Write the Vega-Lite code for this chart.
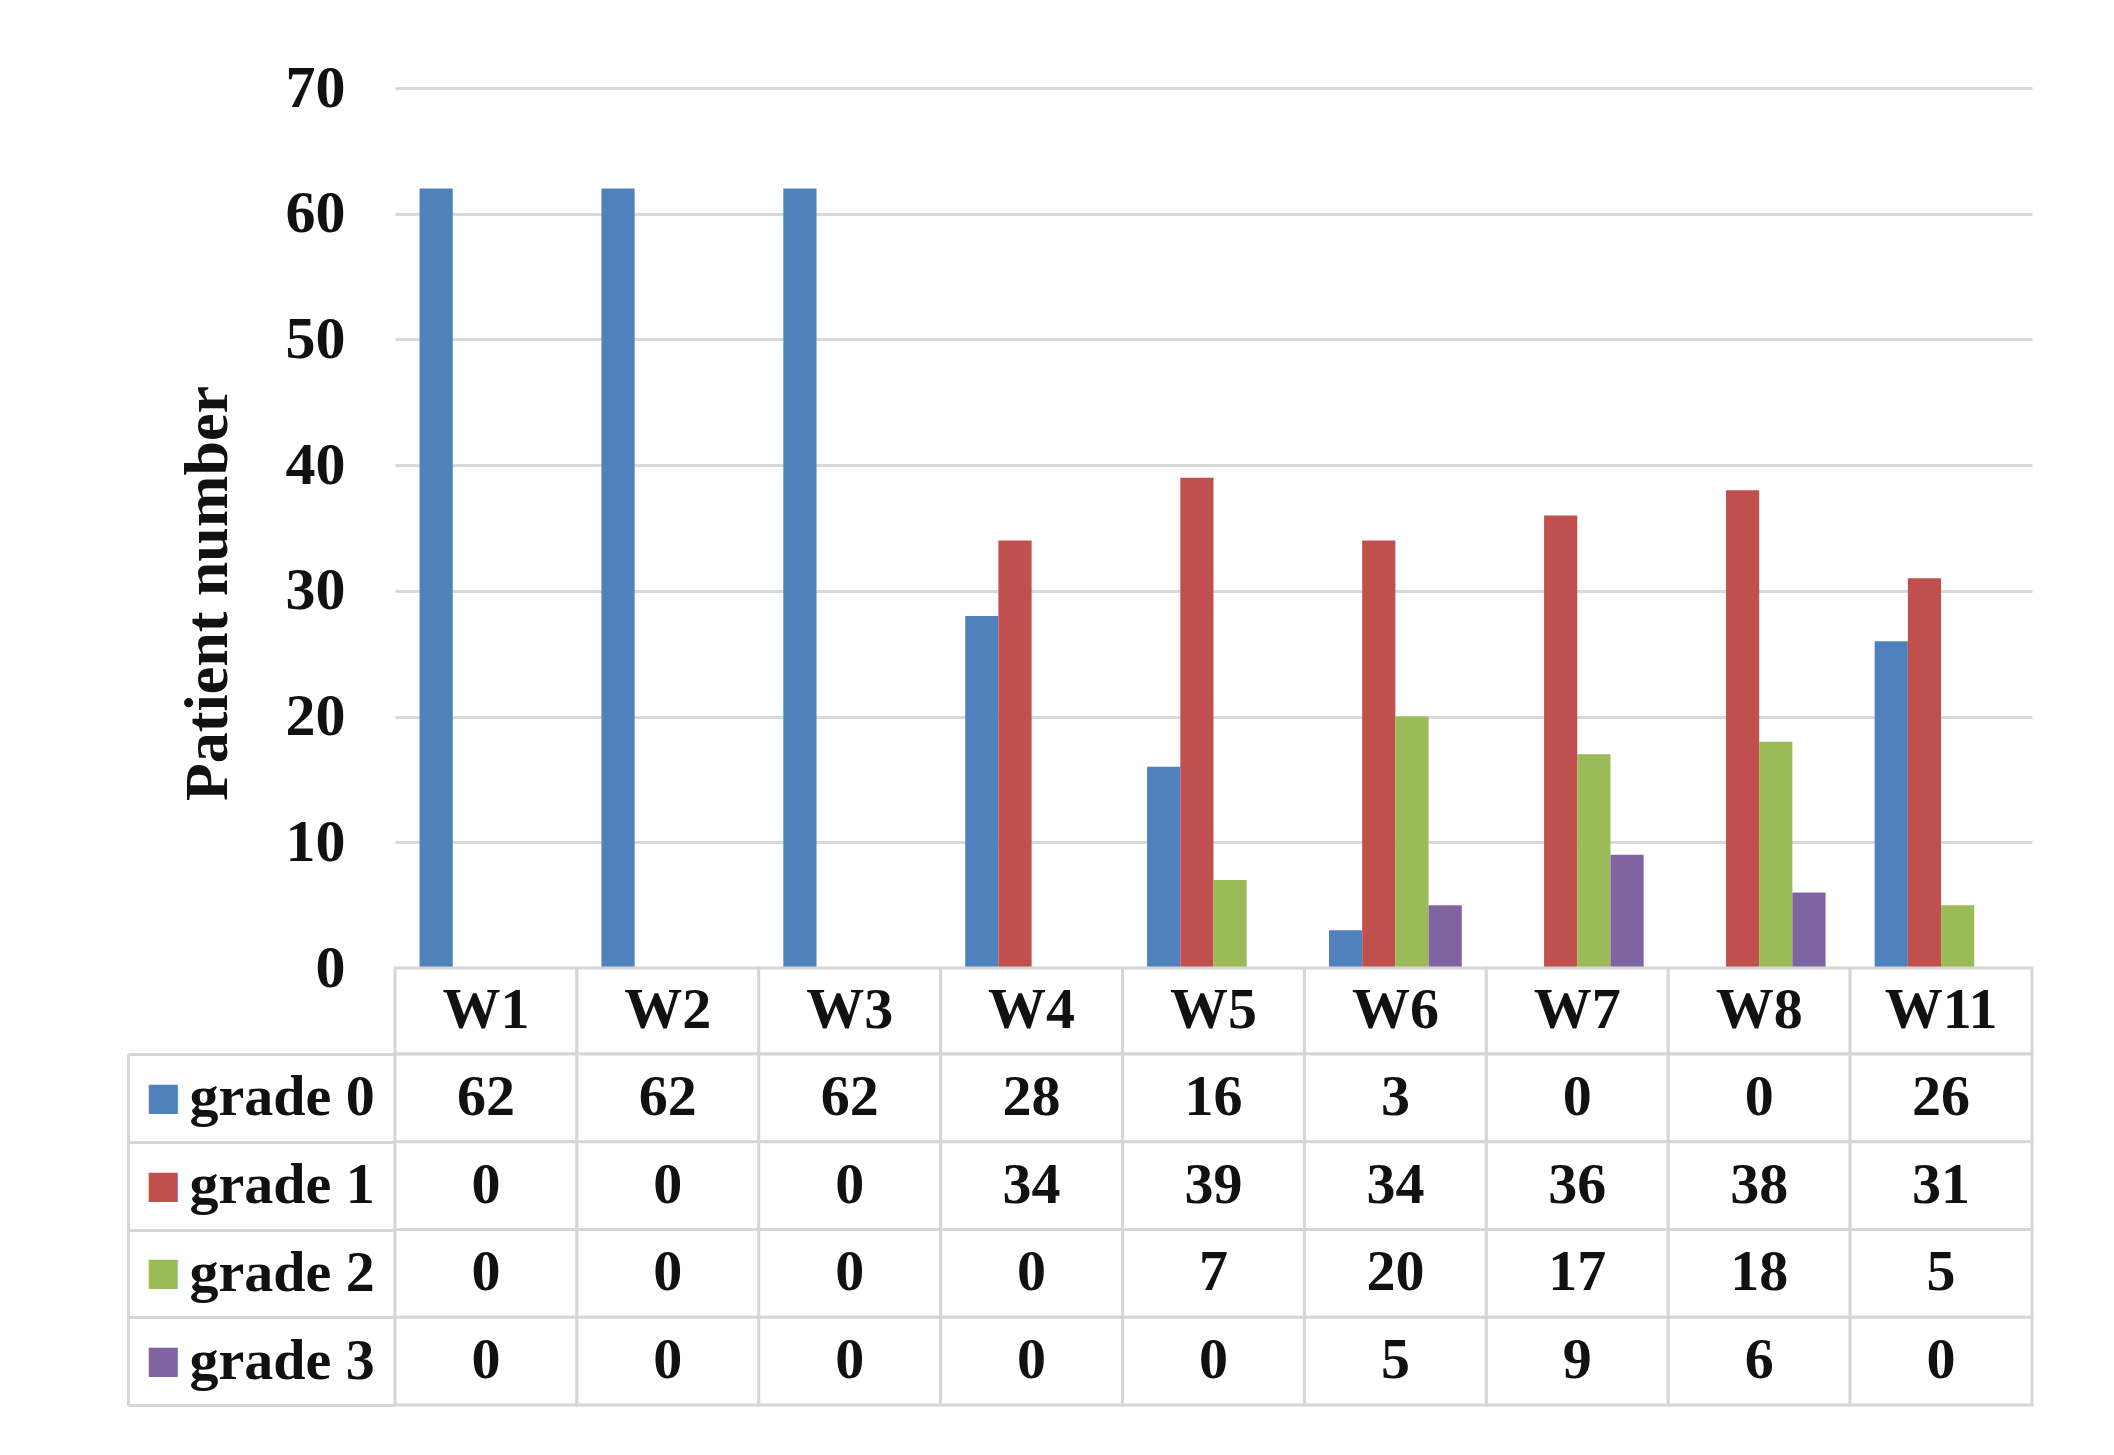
{
  "$schema": "https://vega.github.io/schema/vega-lite/v6.json",
  "padding": {"left": 126, "top": 58, "right": 80, "bottom": 48},
  "background": "white",
  "config": {"view": {"stroke": null}, "font": "Liberation Serif"},
  "datasets": {
    "d": [
      {"week": "W1", "grade": "grade 0", "value": 62},
      {"week": "W2", "grade": "grade 0", "value": 62},
      {"week": "W3", "grade": "grade 0", "value": 62},
      {"week": "W4", "grade": "grade 0", "value": 28},
      {"week": "W5", "grade": "grade 0", "value": 16},
      {"week": "W6", "grade": "grade 0", "value": 3},
      {"week": "W7", "grade": "grade 0", "value": 0},
      {"week": "W8", "grade": "grade 0", "value": 0},
      {"week": "W11", "grade": "grade 0", "value": 26},
      {"week": "W1", "grade": "grade 1", "value": 0},
      {"week": "W2", "grade": "grade 1", "value": 0},
      {"week": "W3", "grade": "grade 1", "value": 0},
      {"week": "W4", "grade": "grade 1", "value": 34},
      {"week": "W5", "grade": "grade 1", "value": 39},
      {"week": "W6", "grade": "grade 1", "value": 34},
      {"week": "W7", "grade": "grade 1", "value": 36},
      {"week": "W8", "grade": "grade 1", "value": 38},
      {"week": "W11", "grade": "grade 1", "value": 31},
      {"week": "W1", "grade": "grade 2", "value": 0},
      {"week": "W2", "grade": "grade 2", "value": 0},
      {"week": "W3", "grade": "grade 2", "value": 0},
      {"week": "W4", "grade": "grade 2", "value": 0},
      {"week": "W5", "grade": "grade 2", "value": 7},
      {"week": "W6", "grade": "grade 2", "value": 20},
      {"week": "W7", "grade": "grade 2", "value": 17},
      {"week": "W8", "grade": "grade 2", "value": 18},
      {"week": "W11", "grade": "grade 2", "value": 5},
      {"week": "W1", "grade": "grade 3", "value": 0},
      {"week": "W2", "grade": "grade 3", "value": 0},
      {"week": "W3", "grade": "grade 3", "value": 0},
      {"week": "W4", "grade": "grade 3", "value": 0},
      {"week": "W5", "grade": "grade 3", "value": 0},
      {"week": "W6", "grade": "grade 3", "value": 5},
      {"week": "W7", "grade": "grade 3", "value": 9},
      {"week": "W8", "grade": "grade 3", "value": 6},
      {"week": "W11", "grade": "grade 3", "value": 0}
    ]
  },
  "spacing": 0,
  "bounds": "flush",
  "resolve": {"scale": {"x": "independent", "y": "independent"}},
  "vconcat": [
    {
      "width": 1637,
      "height": 880,
      "data": {"name": "d"},
      "mark": {"type": "bar"},
      "encoding": {
        "x": {"field": "week", "type": "nominal", "sort": ["W1","W2","W3","W4","W5","W6","W7","W8","W11"], "axis": null, "scale": {"paddingInner": 0.27, "paddingOuter": 0.135}},
        "xOffset": {"field": "grade", "type": "nominal", "scale": {"paddingInner": 0, "paddingOuter": 0}},
        "y": {
          "field": "value", "type": "quantitative",
          "scale": {"domain": [0, 70], "nice": false},
          "axis": {
            "title": "Patient number",
            "values": [0, 10, 20, 30, 40, 50, 60, 70],
            "grid": true, "gridColor": "#D9D9D9", "gridWidth": 3,
            "domain": false, "ticks": false,
            "labelPadding": 50,
            "labelFont": "Liberation Serif", "labelFontWeight": "bold", "labelFontSize": 60, "labelColor": "#111111",
            "titleFont": "Liberation Serif", "titleFontWeight": "bold", "titleFontSize": 62, "titleColor": "#111111",
            "titlePadding": 46,
            "titleY": 505
          }
        },
        "color": {
          "field": "grade", "type": "nominal",
          "scale": {"domain": ["grade 0", "grade 1", "grade 2", "grade 3"], "range": ["#4F81BD", "#C0504D", "#9BBB59", "#8064A2"]},
          "legend": null
        }
      }
    },
    {
      "width": 1637,
      "height": 86,
      "data": {"name": "d"},
      "transform": [{"filter": "datum.grade === 'grade 0'"}],
      "layer": [
        {
          "mark": {"type": "rect", "fill": "white", "stroke": "#D6D6D6", "strokeWidth": 3},
          "encoding": {
            "x": {"field": "week", "type": "nominal", "sort": ["W1","W2","W3","W4","W5","W6","W7","W8","W11"], "axis": null, "scale": {"paddingInner": 0, "paddingOuter": 0}}
          }
        },
        {
          "mark": {"type": "text", "font": "Liberation Serif", "fontWeight": "bold", "fontSize": 58, "baseline": "middle", "color": "#111111"},
          "encoding": {
            "x": {"field": "week", "type": "nominal", "sort": ["W1","W2","W3","W4","W5","W6","W7","W8","W11"], "axis": null, "scale": {"paddingInner": 0, "paddingOuter": 0}},
            "text": {"field": "week"}
          }
        }
      ]
    },
    {
      "width": 1637,
      "height": 351,
      "data": {"name": "d"},
      "resolve": {"axis": {"y": "independent"}},
      "layer": [
        {
          "mark": {"type": "rect", "fill": "white", "stroke": "#D6D6D6", "strokeWidth": 3},
          "encoding": {
            "x": {"field": "week", "type": "nominal", "sort": ["W1","W2","W3","W4","W5","W6","W7","W8","W11"], "axis": null, "scale": {"paddingInner": 0, "paddingOuter": 0}},
            "y": {
              "field": "grade", "type": "nominal",
              "scale": {"paddingInner": 0, "paddingOuter": 0},
              "axis": {
                "orient": "left", "title": null,
                "tickBand": "extent",
                "ticks": true, "tickSize": 267, "tickColor": "#D6D6D6", "tickWidth": 3,
                "domain": false,
                "labelAlign": "left", "labelBaseline": "middle", "labelPadding": -61, "labelLimit": 0,
                "labelFont": "Liberation Serif", "labelFontWeight": "bold", "labelFontSize": 58, "labelColor": "#111111"
              }
            }
          }
        },
        {
          "mark": {"type": "text", "font": "Liberation Serif", "fontWeight": "bold", "fontSize": 58, "baseline": "middle", "color": "#111111"},
          "encoding": {
            "x": {"field": "week", "type": "nominal", "sort": ["W1","W2","W3","W4","W5","W6","W7","W8","W11"], "axis": null, "scale": {"paddingInner": 0, "paddingOuter": 0}},
            "y": {
              "field": "grade", "type": "nominal",
              "scale": {"paddingInner": 0, "paddingOuter": 0},
              "axis": {
                "orient": "left", "title": null, "offset": 267,
                "domain": true, "domainColor": "#D6D6D6", "domainWidth": 3,
                "ticks": false,
                "labelExpr": "'■'",
                "labelAlign": "left", "labelBaseline": "middle", "labelPadding": -17,
                "labelFont": "DejaVu Sans", "labelFontSize": 38,
                "labelColor": {
                  "condition": [
                    {"test": "datum.value === 'grade 0'", "value": "#4F81BD"},
                    {"test": "datum.value === 'grade 1'", "value": "#C0504D"},
                    {"test": "datum.value === 'grade 2'", "value": "#9BBB59"}
                  ],
                  "value": "#8064A2"
                }
              }
            },
            "text": {"field": "value", "type": "quantitative"}
          }
        }
      ]
    }
  ]
}
